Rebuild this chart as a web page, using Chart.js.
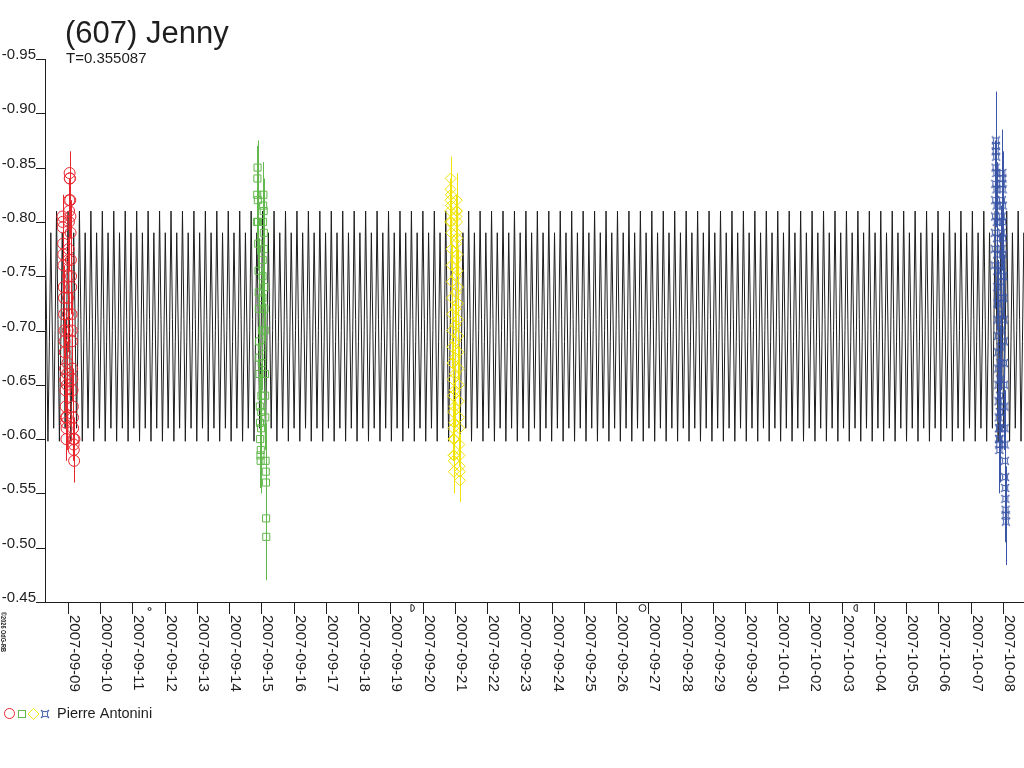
<!DOCTYPE html>
<html>
<head>
<meta charset="utf-8">
<script src="https://cdn.jsdelivr.net/npm/chart.js@4.4.1/dist/chart.umd.min.js"></script>
<style>
  html, body { margin: 0; padding: 0; background: #fff; overflow: hidden; }
  canvas { display: block; }
</style>
</head>
<body>
<canvas id="lightcurve" width="1024" height="768" style="width:1024px;height:768px"></canvas>
<script>
// days are counted from 2007-09-09 00:00
const period = 0.355087;
const dayLabels = [
  '2007-09-09', '2007-09-10', '2007-09-11', '2007-09-12', '2007-09-13', '2007-09-14',
  '2007-09-15', '2007-09-16', '2007-09-17', '2007-09-18', '2007-09-19', '2007-09-20',
  '2007-09-21', '2007-09-22', '2007-09-23', '2007-09-24', '2007-09-25', '2007-09-26',
  '2007-09-27', '2007-09-28', '2007-09-29', '2007-09-30', '2007-10-01', '2007-10-02',
  '2007-10-03', '2007-10-04', '2007-10-05', '2007-10-06', '2007-10-07', '2007-10-08'
];
const magTicks = [-0.95, -0.90, -0.85, -0.80, -0.75, -0.70, -0.65, -0.60, -0.55, -0.50, -0.45];

// one rotation of the fitted curve
const curvePhase = [0, 0.125, 0.25, 0.375, 0.5, 0.625, 0.75, 0.875];
const curveMag = [-0.81, -0.71, -0.598, -0.69, -0.79, -0.705, -0.61, -0.70];

const redT = [-0.17, -0.16, -0.15, -0.14, -0.13, -0.12, -0.11, -0.10, -0.09, -0.08, -0.07, -0.06, -0.05,
  -0.04, -0.03, -0.02, -0.01, 0.00, 0.01, 0.02, 0.03, 0.04, 0.05, 0.06, 0.07, 0.08, 0.09, 0.10,
  0.11, 0.12, 0.13, 0.14, 0.15, 0.16, 0.17, 0.18, 0.19, 0.20,
  -0.165, -0.145, -0.125, -0.105, -0.085, -0.065, -0.045, -0.025, -0.005, 0.015, 0.035, 0.055,
  0.075, 0.095, 0.115, 0.135, 0.155, 0.175];
const redMag = [-0.805, -0.795, -0.78, -0.76, -0.74, -0.715, -0.70, -0.68, -0.665, -0.645, -0.63, -0.615, -0.60,
  -0.62, -0.65, -0.67, -0.70, -0.73, -0.75, -0.775, -0.80, -0.82, -0.845, -0.84, -0.82, -0.79, -0.765, -0.74,
  -0.715, -0.69, -0.665, -0.645, -0.63, -0.61, -0.60, -0.59, -0.58, -0.60,
  -0.80, -0.77, -0.73, -0.69, -0.655, -0.62, -0.61, -0.66, -0.715, -0.765, -0.81, -0.84,
  -0.805, -0.75, -0.70, -0.655, -0.62, -0.595];
const redErr = [0.02, 0.02, 0.02, 0.025, 0.02, 0.02, 0.025, 0.02, 0.02, 0.02, 0.025, 0.02, 0.02,
  0.02, 0.025, 0.02, 0.02, 0.025, 0.02, 0.02, 0.02, 0.02, 0.02, 0.02, 0.02, 0.03, 0.02, 0.025,
  0.02, 0.02, 0.025, 0.02, 0.02, 0.02, 0.02, 0.025, 0.02, 0.02,
  0.02, 0.02, 0.02, 0.02, 0.02, 0.02, 0.02, 0.02, 0.02, 0.02, 0.02, 0.02,
  0.02, 0.02, 0.02, 0.02, 0.02, 0.02];

const greenT = [5.86, 5.87, 5.88, 5.89, 5.90, 5.91, 5.92, 5.93, 5.94, 5.95, 5.96, 5.97, 5.98, 5.99, 6.00,
  6.01, 6.02, 6.03, 6.04, 6.05, 6.06, 6.07, 6.08, 6.09, 6.10, 6.11, 6.12, 6.13, 6.14, 6.145, 6.15,
  5.875, 5.895, 5.915, 5.935, 5.955, 5.975, 5.995, 6.015, 6.035, 6.055, 6.075, 6.095, 6.115, 6.135];
const greenMag = [-0.80, -0.825, -0.85, -0.82, -0.78, -0.755, -0.72, -0.69, -0.66, -0.63, -0.60, -0.585, -0.59,
  -0.61, -0.64, -0.67, -0.70, -0.73, -0.765, -0.80, -0.825, -0.81, -0.775, -0.74, -0.70, -0.66, -0.62, -0.58,
  -0.56, -0.527, -0.51,
  -0.84, -0.80, -0.735, -0.675, -0.615, -0.58, -0.625, -0.685, -0.75, -0.815, -0.79, -0.72, -0.64, -0.57];
const greenErr = [0.03, 0.03, 0.025, 0.03, 0.025, 0.03, 0.025, 0.03, 0.025, 0.03, 0.025, 0.03, 0.03,
  0.025, 0.03, 0.025, 0.03, 0.025, 0.03, 0.03, 0.03, 0.03, 0.025, 0.03, 0.025, 0.03, 0.03, 0.035,
  0.035, 0.04, 0.04,
  0.03, 0.03, 0.03, 0.03, 0.03, 0.03, 0.03, 0.03, 0.03, 0.03, 0.03, 0.03, 0.03, 0.035];

const yellowT = [11.85, 11.86, 11.87, 11.88, 11.89, 11.90, 11.91, 11.92, 11.93, 11.94, 11.95, 11.96, 11.97,
  11.98, 11.99, 12.00, 12.01, 12.02, 12.03, 12.04, 12.05, 12.06, 12.07, 12.08, 12.09, 12.10, 12.11, 12.12,
  12.13, 12.14, 12.15, 12.16,
  11.855, 11.865, 11.875, 11.885, 11.895, 11.905, 11.915, 11.925, 11.935, 11.945, 11.955, 11.965, 11.975,
  11.985, 11.995, 12.005, 12.015, 12.025, 12.035, 12.045, 12.055, 12.065, 12.075, 12.085, 12.095, 12.105,
  12.115, 12.125, 12.135, 12.145, 12.155];
const yellowMag = [-0.80, -0.82, -0.84, -0.815, -0.79, -0.76, -0.73, -0.70, -0.67, -0.64, -0.61, -0.585, -0.57,
  -0.60, -0.63, -0.66, -0.69, -0.72, -0.75, -0.78, -0.805, -0.82, -0.80, -0.77, -0.74, -0.71, -0.68, -0.65,
  -0.62, -0.595, -0.575, -0.562,
  -0.81, -0.83, -0.825, -0.80, -0.775, -0.745, -0.715, -0.685, -0.655, -0.625, -0.60, -0.58, -0.585,
  -0.615, -0.645, -0.675, -0.705, -0.735, -0.765, -0.79, -0.81, -0.81, -0.785, -0.755, -0.725, -0.695,
  -0.665, -0.635, -0.61, -0.585, -0.57];
const yellowErr = [0.02, 0.02, 0.02, 0.025, 0.02, 0.02, 0.02, 0.025, 0.02, 0.02, 0.02, 0.025, 0.02,
  0.02, 0.02, 0.02, 0.025, 0.02, 0.02, 0.02, 0.02, 0.025, 0.02, 0.02, 0.02, 0.02, 0.025, 0.02,
  0.02, 0.02, 0.025, 0.02,
  0.02, 0.02, 0.02, 0.02, 0.02, 0.02, 0.02, 0.02, 0.02, 0.02, 0.02, 0.02, 0.02,
  0.02, 0.02, 0.02, 0.02, 0.02, 0.02, 0.02, 0.02, 0.02, 0.02, 0.02, 0.02, 0.02,
  0.02, 0.02, 0.02, 0.02, 0.02];

const blueT = [28.74, 28.75, 28.76, 28.77, 28.78, 28.79, 28.80, 28.81, 28.82, 28.83, 28.84, 28.85, 28.86,
  28.87, 28.88, 28.89, 28.90, 28.91, 28.92, 28.93, 28.94, 28.95, 28.96, 28.97, 28.98, 28.99, 29.00, 29.01,
  29.02, 29.03, 29.04, 29.05, 29.06, 29.07, 29.08, 29.09,
  28.745, 28.755, 28.765, 28.775, 28.785, 28.795, 28.805, 28.815, 28.825, 28.835, 28.845, 28.855, 28.865,
  28.875, 28.885, 28.895, 28.905, 28.915, 28.925, 28.935, 28.945, 28.955, 28.965, 28.975, 28.985, 28.995,
  29.005, 29.015, 29.025, 29.035, 29.045, 29.055, 29.065, 29.075, 29.085];
const blueMag = [-0.76, -0.79, -0.82, -0.85, -0.875, -0.86, -0.83, -0.80, -0.77, -0.74, -0.71, -0.68, -0.65,
  -0.62, -0.60, -0.59, -0.61, -0.64, -0.67, -0.70, -0.73, -0.76, -0.79, -0.82, -0.845, -0.83, -0.80, -0.77,
  -0.73, -0.69, -0.65, -0.61, -0.58, -0.555, -0.535, -0.524,
  -0.775, -0.805, -0.835, -0.865, -0.87, -0.845, -0.815, -0.785, -0.755, -0.725, -0.695, -0.665, -0.635,
  -0.61, -0.595, -0.60, -0.625, -0.655, -0.685, -0.715, -0.745, -0.775, -0.805, -0.835, -0.84, -0.815,
  -0.785, -0.75, -0.71, -0.67, -0.63, -0.595, -0.565, -0.545, -0.53];
const blueErr = [0.04, 0.035, 0.04, 0.04, 0.045, 0.04, 0.035, 0.04, 0.035, 0.04, 0.035, 0.04, 0.035,
  0.04, 0.035, 0.04, 0.035, 0.04, 0.035, 0.04, 0.035, 0.04, 0.035, 0.04, 0.04, 0.035, 0.04, 0.035,
  0.04, 0.035, 0.04, 0.035, 0.04, 0.04, 0.04, 0.04,
  0.04, 0.04, 0.04, 0.04, 0.04, 0.04, 0.04, 0.04, 0.04, 0.04, 0.04, 0.04, 0.04,
  0.04, 0.04, 0.04, 0.04, 0.04, 0.04, 0.04, 0.04, 0.04, 0.04, 0.04, 0.04, 0.04,
  0.04, 0.04, 0.04, 0.04, 0.04, 0.04, 0.04, 0.04, 0.04];

// moon phases on the time axis
const moonDays = [2.53, 10.70, 17.82, 24.42];
const moonPhases = ['new', 'first', 'full', 'last'];

// Chart.js keeps half a marker (6.5 px) free on the right, so the plot area
// ends at 1017.5; the range is set so days keep the reference spacing
const xMin = -0.713, xMax = 29.452;
const FONT = '"Liberation Sans", Arial, sans-serif';
const RED = '#e8262e', GREEN = '#62b84c', YELLOW = '#f0e30a', BLUE = '#3b56a6', INK = '#1e1e1e';

function pts(t, m) {
  return t.map((v, i) => ({ x: v, y: m[i] }));
}

// model curve: the read rotation shape repeated every period
const curve = [];
for (let c = Math.floor(xMin / period) - 1; c * period <= xMax + 2 * period; c++) {
  curvePhase.forEach((ph, i) => curve.push({ x: (c + ph) * period, y: curveMag[i] }));
}

function starSymbol(color) {
  const cv = document.createElement('canvas');
  cv.width = 10; cv.height = 10;
  const g = cv.getContext('2d');
  g.strokeStyle = color;
  g.lineWidth = 1;
  g.beginPath();
  g.moveTo(1, 1);
  g.quadraticCurveTo(5, 4.5, 9, 1);
  g.quadraticCurveTo(5.5, 5, 9, 9);
  g.quadraticCurveTo(5, 5.5, 1, 9);
  g.quadraticCurveTo(4.5, 5, 1, 1);
  g.stroke();
  return cv;
}
const blueStar = starSymbol(BLUE);

const errorBars = {
  id: 'errorBars',
  beforeDatasetDraw(chart, args) {
    const ds = chart.data.datasets[args.index];
    if (!ds.errors) return;
    const { ctx, scales: { x, y } } = chart;
    ctx.save();
    ctx.strokeStyle = ds.borderColor;
    ctx.lineWidth = 1;
    ctx.beginPath();
    ds.data.forEach((p, i) => {
      const px = Math.round(x.getPixelForValue(p.x)) + 0.5;
      ctx.moveTo(px, y.getPixelForValue(p.y - ds.errors[i]));
      ctx.lineTo(px, y.getPixelForValue(p.y + ds.errors[i]));
    });
    ctx.stroke();
    ctx.restore();
  }
};

const frame = {
  id: 'frame',
  afterDraw(chart) {
    const { ctx, chartArea: a, scales: { x, y } } = chart;
    ctx.save();
    ctx.strokeStyle = INK;
    ctx.fillStyle = INK;
    ctx.lineWidth = 1;

    // axes
    ctx.beginPath();
    ctx.moveTo(a.left + 0.5, a.top);
    ctx.lineTo(a.left + 0.5, a.bottom);
    ctx.moveTo(36, a.bottom + 0.5);
    ctx.lineTo(chart.width, a.bottom + 0.5);
    ctx.stroke();

    // y ticks, label sits on the tick
    ctx.font = '15px ' + FONT;
    ctx.textAlign = 'right';
    ctx.textBaseline = 'alphabetic';
    magTicks.forEach(v => {
      const py = Math.round(y.getPixelForValue(v)) + 0.5;
      ctx.beginPath();
      ctx.moveTo(36, py);
      ctx.lineTo(a.left, py);
      ctx.stroke();
      ctx.fillText(v.toFixed(2), 36, py - 1);
    });

    // x ticks, labels turned clockwise
    ctx.textAlign = 'left';
    dayLabels.forEach((lab, i) => {
      const px = Math.round(x.getPixelForValue(i)) + 0.5;
      ctx.beginPath();
      ctx.moveTo(px, a.bottom);
      ctx.lineTo(px, a.bottom + 12);
      ctx.stroke();
      ctx.save();
      ctx.translate(px + 1, a.bottom + 13);
      ctx.rotate(Math.PI / 2);
      ctx.fillText(lab, 0, 0);
      ctx.restore();
    });

    // moon phases
    moonDays.forEach((d, i) => {
      const px = x.getPixelForValue(d);
      const py = a.bottom + 6;
      ctx.beginPath();
      if (moonPhases[i] === 'new') {
        ctx.arc(px, py + 1, 1.5, 0, Math.PI * 2);
      } else if (moonPhases[i] === 'full') {
        ctx.arc(px, py, 3.5, 0, Math.PI * 2);
      } else if (moonPhases[i] === 'first') {
        ctx.moveTo(px - 2, py - 3.5);
        ctx.arc(px - 2, py, 3.5, -Math.PI / 2, Math.PI / 2);
        ctx.closePath();
      } else {
        ctx.moveTo(px + 2, py - 3.5);
        ctx.arc(px + 2, py, 3.5, -Math.PI / 2, Math.PI / 2, true);
        ctx.closePath();
      }
      ctx.stroke();
    });

    // titles
    ctx.font = '31px ' + FONT;
    ctx.fillText('(607) Jenny', 65, 43);
    ctx.font = '15px ' + FONT;
    ctx.fillText('T=0.355087', 66, 63);

    // observer legend
    ctx.lineWidth = 1;
    ctx.strokeStyle = RED;
    ctx.beginPath(); ctx.arc(9.5, 713.5, 5, 0, Math.PI * 2); ctx.stroke();
    ctx.strokeStyle = GREEN;
    ctx.strokeRect(18.5, 710.5, 7, 7);
    ctx.strokeStyle = YELLOW;
    ctx.beginPath();
    ctx.moveTo(33.5, 708.5); ctx.lineTo(39, 714); ctx.lineTo(33.5, 719.5); ctx.lineTo(28, 714);
    ctx.closePath(); ctx.stroke();
    ctx.drawImage(blueStar, 40, 709);
    ctx.fillStyle = INK;
    ctx.font = '14.5px ' + FONT;
    ctx.fillText('Pierre Antonini', 57, 718);

    // credit, turned clockwise
    ctx.save();
    ctx.translate(1, 612);
    ctx.rotate(Math.PI / 2);
    ctx.font = 'bold 8px ' + FONT;
    ctx.fillText('\u00a92026 OdG-RB', 0, 0, 40);
    ctx.restore();

    ctx.restore();
  }
};

const chart = new Chart(document.getElementById('lightcurve'), {
  type: 'scatter',
  data: {
    datasets: [
      {
        data: pts(redT, redMag), errors: redErr,
        pointStyle: 'circle', pointRadius: 5.5, borderColor: RED, backgroundColor: 'rgba(0,0,0,0)', borderWidth: 1
      },
      {
        data: pts(greenT, greenMag), errors: greenErr,
        pointStyle: 'rect', pointRadius: 5, borderColor: GREEN, backgroundColor: 'rgba(0,0,0,0)', borderWidth: 1
      },
      {
        data: pts(yellowT, yellowMag), errors: yellowErr,
        pointStyle: 'rectRot', pointRadius: 5.5, borderColor: YELLOW, backgroundColor: 'rgba(0,0,0,0)', borderWidth: 1
      },
      {
        data: pts(blueT, blueMag), errors: blueErr,
        pointStyle: blueStar, pointRadius: 5, borderColor: BLUE, backgroundColor: 'rgba(0,0,0,0)', borderWidth: 1,
        clip: { left: 0, top: 0, right: 8, bottom: 0 }
      },
      {
        type: 'line', data: curve, borderColor: INK, borderWidth: 1,
        pointRadius: 0, tension: 0, fill: false,
        clip: { left: 0, top: 0, right: 7, bottom: 0 }
      }
    ]
  },
  plugins: [errorBars, frame],
  options: {
    responsive: false,
    devicePixelRatio: 1,
    animation: false,
    events: [],
    layout: { padding: { left: 45, top: 59, right: 0, bottom: 166 } },
    scales: {
      // range set after the data limits so the curve is not cut at the edge
      x: {
        type: 'linear', bounds: 'data', display: false,
        afterDataLimits(scale) { scale.min = xMin; scale.max = xMax; }
      },
      y: { type: 'linear', min: -0.95, max: -0.45, reverse: true, display: false }
    },
    plugins: {
      legend: { display: false },
      tooltip: { enabled: false }
    }
  }
});
</script>
</body>
</html>
